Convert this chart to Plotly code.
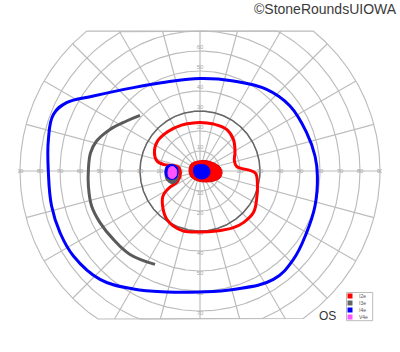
import numpy as np
import plotly.graph_objects as go

# ---- Isopter data (visual-field degrees; +x = right, +y = up) ----
# I4e (blue) outer isopter
i4e_x = [0, 16.7, 33.3, 45, 53.3, 57.5, 58.7, 57.5, 53.3, 46.7, 36.7, 16.7, 0, -16.7, -33.3,
         -50, -63.3, -70, -74.2, -75.8, -75.8, -73.3, -66.7, -53.3, -33.3, -16.7, 0]
i4e_y = [46.2, 45, 40.8, 32.5, 19.2, 7.5, -2.5, -17.5, -30.8, -44.2, -54.2, -59.2, -60.5, -60.5, -59,
         -54.2, -42.5, -30.8, -17.5, -1, 15.8, 28.3, 34.2, 37.5, 41.7, 44.5, 46.2]

# I3e (gray) partial arc, temporal
i3e_x = [-30, -36.7, -45, -51.7, -54.7, -55.8, -55.8, -54.2, -50, -43.3, -35, -22.5]
i3e_y = [27.8, 25, 20.8, 15, 9.2, 0.8, -7.5, -17.5, -25.8, -34.2, -41.7, -46.7]

# I2e (red) isopter
i2e_x = [-9.2, -5, 0, 6.7, 13.3, 16.7, 17.5, 17.2, 18.3, 21, 25, 27.8, 28.7, 28.3, 26.7, 21.7,
         16.7, 8.3, 0, -8.3, -13.3, -16.7, -18.7, -18.5, -15.5, -11.2, -9.8, -10.8, -13.5, -18,
         -21.5, -22.8, -21.2, -16, -9.2]
i2e_y = [22.9, 23.8, 24.3, 23.5, 20.8, 15.8, 10, 5, 2.3, 1.2, 0.3, -1.2, -5.8, -14.2, -20.8, -25.8,
         -28.3, -30, -30.5, -30, -27.5, -24, -17.5, -12.5, -8.5, -5.2, -1.5, 2.0, 2.8, 3.2,
         5, 9.5, 15, 19.8, 22.9]

# Central red (I2e) and blue (I4e) filled areas
c_red_x = [-5.5, -4.5, -1, 3, 7, 10, 11, 10, 7, 3, -1, -4.5, -5.5]
c_red_y = [0, 3.5, 5, 5.2, 4, 2, -1, -3.5, -5, -5.5, -5, -3, 0]
c_blue_x = [-3.3, -2.5, 0.5, 3.5, 5, 4, 1, -2, -3.3]
c_blue_y = [0, 2.5, 3.2, 2.5, 0, -2.8, -4, -3, 0]

# Blind spot: I3e (gray), I4e (blue), V4e (magenta)
bs_gray_x = [-17.5, -17, -14.5, -11.5, -10.8, -11.5, -14, -16.8, -17.5]
bs_gray_y = [-1, 2, 3, 2, -1.5, -5, -6.3, -4.5, -1]
bs_blue_x = [-17.5, -16.5, -14, -11.5, -11, -12, -14.5, -16.8, -17.5]
bs_blue_y = [-0.5, 2.5, 3.2, 2, -1, -3.5, -4.2, -3, -0.5]
bs_mag_x = [-16, -15.2, -13.5, -11.8, -12, -13.8, -15.5, -16]
bs_mag_y = [-1, 1.8, 2.2, 0.5, -2.5, -3.8, -3, -1]

# Grid definitions
ring_radii = [10, 20, 30, 40, 50, 60, 70, 80, 90]
spoke_angles = list(range(0, 360, 15))
h_labels = [10, 20, 30, 40, 50, 60, 70, 80, 90]
v_labels = [10, 20, 30, 40, 50, 60, 70]
TOP, BOT = 70, -74

legend_names = ["I2e", "I3e", "I4e", "V4e"]
legend_colors = ["#ff0000", "#666666", "#0000ff", "#ff55ff"]

RED, BLUE, GRAY, MAG = "#ff0000", "#0000ff", "#5a5a5a", "#ff55ff"

fig = go.Figure()

# ---- grid circles (clipped to chart frame) ----
th = np.linspace(0, 2 * np.pi, 721)
gx, gy = [], []
for r in ring_radii:
    gx += list(r * np.cos(th)) + [None]
    gy += list(np.clip(r * np.sin(th), BOT, TOP)) + [None]
# spokes
for a in spoke_angles:
    rad = np.deg2rad(a)
    s = np.sin(rad)
    if s > 1e-9:
        rend = min(90, TOP / s)
    elif s < -1e-9:
        rend = min(90, -BOT / -s)
    else:
        rend = 90
    gx += [0, rend * np.cos(rad), None]
    gy += [0, rend * np.sin(rad), None]
fig.add_trace(go.Scatter(x=gx, y=gy, mode="lines", line=dict(color="#bcbcbc", width=1.15),
                         hoverinfo="skip", showlegend=False))
# emphasized 30 deg circle
fig.add_trace(go.Scatter(x=list(30 * np.cos(th)), y=list(30 * np.sin(th)), mode="lines",
                         line=dict(color="#666666", width=1.5), hoverinfo="skip", showlegend=False))

# ---- tick labels ----
lx = [-r for r in h_labels] + h_labels + [0] * len(v_labels) * 2
ly = [0] * len(h_labels) * 2 + [r + 1.6 for r in v_labels] + [-(r + 1.2) for r in v_labels]
lt = [str(r) for r in h_labels] * 2 + [str(r) for r in v_labels] * 2
fig.add_trace(go.Scatter(x=lx, y=ly, text=lt, mode="text",
                         textfont=dict(size=6, color="#a8a8a8", family="Liberation Sans"),
                         hoverinfo="skip", showlegend=False))

# ---- isopters ----
fig.add_trace(go.Scatter(x=i4e_x, y=i4e_y, mode="lines",
                         line=dict(color=BLUE, width=3, shape="spline", smoothing=1.15),
                         hoverinfo="skip", showlegend=False))
fig.add_trace(go.Scatter(x=i3e_x, y=i3e_y, mode="lines",
                         line=dict(color=GRAY, width=3, shape="spline", smoothing=1.1),
                         hoverinfo="skip", showlegend=False))
fig.add_trace(go.Scatter(x=i2e_x, y=i2e_y, mode="lines",
                         line=dict(color=RED, width=3, shape="spline", smoothing=1.1),
                         hoverinfo="skip", showlegend=False))

def blob(xs, ys, color, lc=None):
    fig.add_trace(go.Scatter(x=xs, y=ys, mode="lines", fill="toself", fillcolor=color,
                             line=dict(color=lc or color, width=1, shape="spline"),
                             hoverinfo="skip", showlegend=False))

blob(c_red_x, c_red_y, RED, "#e00000")
blob(c_blue_x, c_blue_y, BLUE)
blob(bs_gray_x, bs_gray_y, "#5a5a5a")
blob(bs_blue_x, bs_blue_y, BLUE)
blob(bs_mag_x, bs_mag_y, MAG)

# ---- layout ----
L, T, W, H = 18, 29, 364, 292  # plot area in px
def px(x):
    return (x - L) / W
def py(y):
    return (T + H - y) / H

shapes = [dict(type="rect", xref="paper", yref="paper", x0=px(346.5), x1=px(372.7),
               y0=py(320.7), y1=py(292.5), line=dict(color="#bbbbbb", width=1), fillcolor="white")]
annotations = [
    dict(text="©StoneRoundsUIOWA", xref="paper", yref="paper", x=px(399), y=py(9),
         xanchor="right", yanchor="middle", showarrow=False,
         font=dict(size=14, color="#3a3a3a", family="Liberation Sans")),
    dict(text="OS", xref="paper", yref="paper", x=px(327.5), y=py(316),
         xanchor="center", yanchor="middle", showarrow=False,
         font=dict(size=12, color="#333333", family="Liberation Sans")),
]
row_y = [296, 303, 310, 317]
for name, col, yy in zip(legend_names, legend_colors, row_y):
    shapes.append(dict(type="rect", xref="paper", yref="paper", x0=px(347.5), x1=px(352.5),
                       y0=py(yy + 2.5), y1=py(yy - 2.5), line=dict(width=0), fillcolor=col))
    annotations.append(dict(text=name, xref="paper", yref="paper", x=px(357), y=py(yy),
                            xanchor="left", yanchor="middle", showarrow=False,
                            font=dict(size=5, color="#555555", family="Liberation Sans")))

fig.update_layout(
    width=400, height=352,
    margin=dict(l=L, r=400 - L - W, t=T, b=352 - T - H),
    paper_bgcolor="white", plot_bgcolor="white",
    xaxis=dict(range=[-91, 91], visible=False, fixedrange=True),
    yaxis=dict(range=[-75, 71], visible=False, fixedrange=True),
    shapes=shapes, annotations=annotations, showlegend=False,
)

fig.write_html("out.html")
